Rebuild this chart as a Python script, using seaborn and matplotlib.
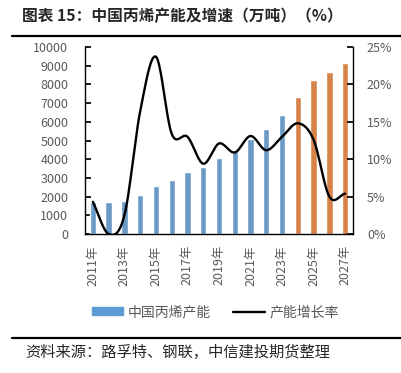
import numpy as np
import pandas as pd
import seaborn as sns
import matplotlib.pyplot as plt
from matplotlib.patches import Patch
from matplotlib.lines import Line2D

# 数据
years = [f'{y}年' for y in range(2011, 2028)]
capacity = [1700, 1700, 1770, 2090, 2570, 2890, 3300, 3600, 4050,
            4490, 5080, 5630, 6360, 7310, 8220, 8660, 9130]
growth = [4.3, 0.0, 2.5, 16.4, 23.7, 13.4, 13.0, 9.4, 12.1,
          10.9, 13.1, 11.2, 13.0, 14.8, 12.6, 5.0, 5.4]
kind = ['实际'] * 13 + ['预测'] * 4

sns.set_theme(style='white')
plt.rcParams['font.family'] = ['Noto Sans CJK SC', 'DejaVu Sans']

df = pd.DataFrame({'年份': years, '产能': capacity, '类型': kind})


def smooth(x, y, n=20):
    # Excel 式平滑曲线（Catmull-Rom）
    x = np.asarray(x, float)
    y = np.asarray(y, float)
    px = np.concatenate([[2 * x[0] - x[1]], x, [2 * x[-1] - x[-2]]])
    py = np.concatenate([[2 * y[0] - y[1]], y, [2 * y[-1] - y[-2]]])
    xs, ys = [], []
    t = np.linspace(0, 1, n, endpoint=False)
    for i in range(1, len(px) - 2):
        f = lambda a: 0.5 * ((2 * a[1]) + (-a[0] + a[2]) * t
                             + (2 * a[0] - 5 * a[1] + 4 * a[2] - a[3]) * t ** 2
                             + (-a[0] + 3 * a[1] - 3 * a[2] + a[3]) * t ** 3)
        xs.append(f(px[i - 1:i + 3]))
        ys.append(f(py[i - 1:i + 3]))
    xs.append([x[-1]])
    ys.append([y[-1]])
    return np.concatenate(xs), np.concatenate(ys)


fig = plt.figure(figsize=(4.01, 3.73), dpi=100)
ax = fig.add_axes([85 / 401, 1 - 234 / 373, 268 / 401, 187 / 373])

sns.barplot(data=df, x='年份', y='产能', hue='类型',
            palette={'实际': '#5B9BD5', '预测': '#ED7D31'},
            dodge=False, width=0.4, legend=False, ax=ax)

ax2 = ax.twinx()
sx, sy = smooth(np.arange(len(years)), growth)
sns.lineplot(x=sx, y=sy, color='black', linewidth=1.7, sort=False, ax=ax2)

ax.set_xlim(-0.5, len(years) - 0.5)
ax.set_ylim(0, 10000)
ax.set_yticks(range(0, 10001, 1000))
ax2.set_ylim(0, 25)
ax2.set_yticks(range(0, 26, 5))
ax2.set_yticklabels([f'{v}%' for v in range(0, 26, 5)])

ax.set_xticks(range(0, len(years), 2))
ax.set_xticklabels(years[::2], rotation=90)
ax.set_xlabel('')
ax.set_ylabel('')
ax2.set_ylabel('')

for a in (ax, ax2):
    for s in a.spines.values():
        s.set_visible(False)
    a.tick_params(colors='#595959', labelsize=9)
ax.spines['left'].set_visible(True)
ax.spines['bottom'].set_visible(True)
ax2.spines['right'].set_visible(True)
for s in (ax.spines['left'], ax.spines['bottom'], ax2.spines['right']):
    s.set_color('black')
    s.set_linewidth(1.0)
ax.tick_params(axis='y', direction='in', length=4, color='black', pad=12)
ax.tick_params(axis='x', length=0, pad=8)
ax2.tick_params(axis='y', direction='in', length=4, color='black', pad=10)
ax.grid(False)
ax2.grid(False)

# 图例
handles = [Patch(color='#5B9BD5'), Line2D([], [], color='black', linewidth=1.7)]
fig.legend(handles, ['中国丙烯产能', '产能增长率'], loc='center',
           bbox_to_anchor=(0.537, 1 - 312 / 373), ncol=2, frameon=False,
           fontsize=10, handlelength=2.25, handleheight=0.45, columnspacing=1.6,
           handletextpad=0.35, labelcolor='#595959')

# 标题与来源
fig.text(22 / 401, 1 - 16 / 373, '图表 15：中国丙烯产能及增速（万吨）（%）',
         fontsize=11.3, fontweight='bold', va='center', ha='left')
fig.add_artist(Line2D([12 / 401, 1], [1 - 36 / 373] * 2, color='black', linewidth=1.6))
fig.add_artist(Line2D([12 / 401, 1], [1 - 338 / 373] * 2, color='black', linewidth=1.6))
fig.text(25 / 401, 1 - 352 / 373, '资料来源：路孚特、钢联，中信建投期货整理',
         fontsize=11, style='italic', va='center', ha='left')

fig.savefig('out.png', dpi=100)
